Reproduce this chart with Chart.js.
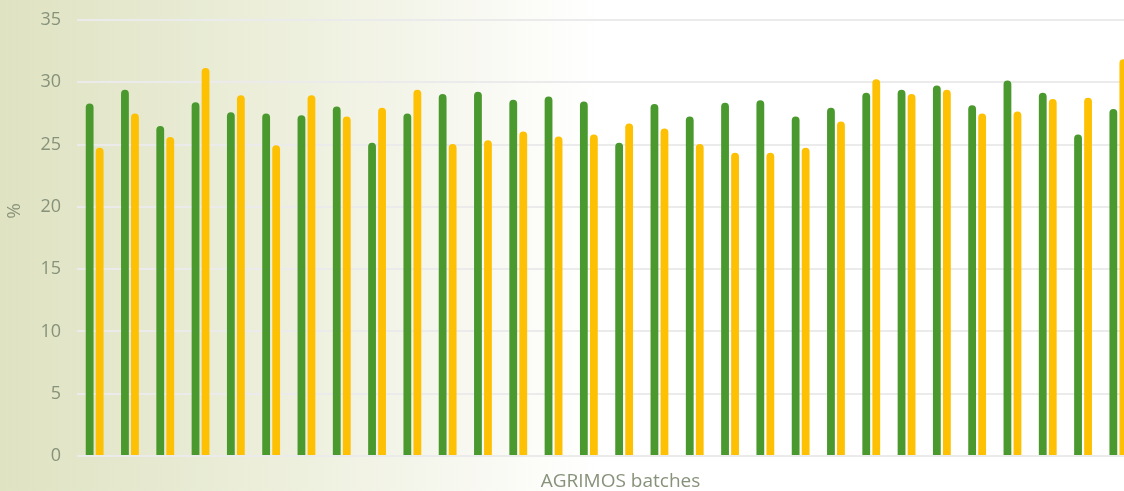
<!DOCTYPE html>
<html>
<head>
<meta charset="utf-8">
<script src="https://cdn.jsdelivr.net/npm/chart.js@4.4.0/dist/chart.umd.min.js"></script>
<style>
  html, body { margin: 0; padding: 0; width: 1124px; height: 491px; overflow: hidden; }
  body { background: linear-gradient(to right, #dfe3c2 0px, #e6e9cf 150px, #eef0de 300px, #f5f6ec 430px, #fbfbf7 520px, #ffffff 600px); }
  #wrap { position: absolute; left: 0; top: 0; width: 1140px; height: 491px; }
</style>
</head>
<body>
<div id="wrap"><canvas id="c" width="1140" height="491"></canvas></div>
<script>
const batches = ["1","2","3","4","5","6","7","8","9","10","11","12","13","14","15","16","17","18","19","20","21","22","23","24","25","26","27","28","29","30"];
const greenSeries = [28.3, 29.4, 26.5, 28.4, 27.6, 27.5, 27.35, 28.05, 25.15, 27.5, 29.05, 29.25, 28.6, 28.85, 28.45, 25.15, 28.25, 27.25, 28.35, 28.55, 27.25, 27.95, 29.15, 29.4, 29.75, 28.15, 30.15, 29.15, 25.8, 27.85];
const yellowSeries = [24.75, 27.5, 25.6, 31.15, 28.95, 24.95, 28.95, 27.25, 27.95, 29.4, 25.05, 25.35, 26.05, 25.65, 25.8, 26.7, 26.3, 25.05, 24.35, 24.35, 24.75, 26.85, 30.25, 29.05, 29.4, 27.5, 27.65, 28.65, 28.75, 31.85];
const yTicks = [0, 5, 10, 15, 20, 25, 30, 35];
const xTitle = "AGRIMOS batches";
const yTitle = "%";

const textColor = "#87927a";

const titlesPlugin = {
  id: "titles",
  afterDraw(chart) {
    const ctx = chart.ctx;
    const a = chart.chartArea;
    ctx.save();
    ctx.fillStyle = textColor;
    ctx.font = "19px 'Open Sans'";
    ctx.textAlign = "center";
    ctx.textBaseline = "alphabetic";
    ctx.fillText(xTitle, (a.left + a.right) / 2 + 14, a.bottom + 31);
    ctx.translate(15, (a.top + a.bottom) / 2 - 27);
    ctx.rotate(-Math.PI / 2);
    ctx.textBaseline = "middle";
    ctx.fillText(yTitle, 0, 0);
    ctx.restore();
  }
};

new Chart(document.getElementById("c"), {
  type: "bar",
  data: {
    labels: batches,
    datasets: [
      { data: greenSeries, backgroundColor: "#4a992e", borderWidth: 0, borderSkipped: "start", borderRadius: 4 },
      { data: yellowSeries, backgroundColor: "#fdc002", borderWidth: 0, borderSkipped: "start", borderRadius: 4 }
    ]
  },
  options: {
    responsive: false,
    animation: false,
    devicePixelRatio: 1,
    categoryPercentage: 0.567,
    barPercentage: 0.78,
    layout: { padding: { top: 20, right: 4, bottom: 0, left: 0 } },
    plugins: { legend: { display: false }, tooltip: { enabled: false } },
    scales: {
      x: {
        grid: { display: false },
        border: { display: false },
        ticks: { display: false },
        afterFit: (s) => { s.height = 35; s.paddingLeft = 0; s.paddingRight = 0; }
      },
      y: {
        min: 0,
        max: 35,
        afterBuildTicks: (s) => { s.ticks = yTicks.map(v => ({ value: v })); },
        afterFit: (s) => { s.width = 77; s.paddingTop = 0; s.paddingBottom = 0; },
        grid: { color: "#ebebeb", lineWidth: 2, drawTicks: false },
        border: { display: false },
        ticks: { color: textColor, padding: 16, font: { family: "'Open Sans'", size: 18 } }
      }
    }
  },
  plugins: [titlesPlugin]
});
</script>
</body>
</html>
